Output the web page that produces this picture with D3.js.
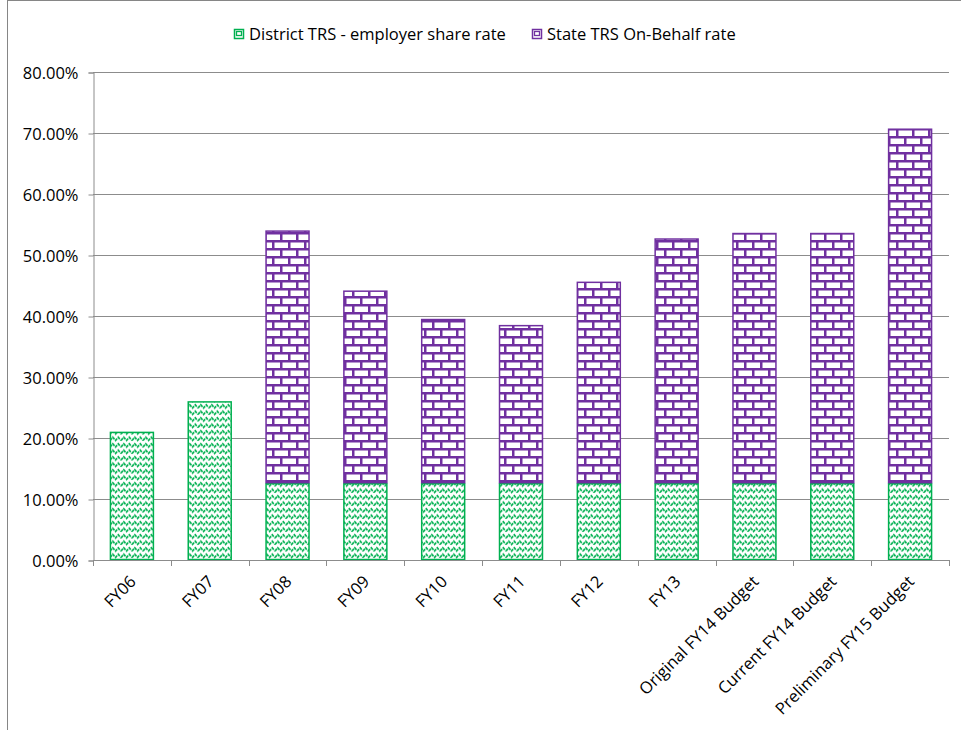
<!DOCTYPE html>
<html>
<head>
<meta charset="utf-8">
<script src="https://cdn.jsdelivr.net/npm/d3@7/dist/d3.min.js"></script>
<style>
  html, body { margin: 0; padding: 0; background: #fff; }
  svg { display: block; font-family: "Open Sans", sans-serif; }
</style>
</head>
<body>
<svg id="chart" width="961" height="730"></svg>
<script>
// Fiscal-year categories along the x axis
const categories = ["FY06", "FY07", "FY08", "FY09", "FY10", "FY11", "FY12", "FY13",
  "Original FY14 Budget", "Current FY14 Budget", "Preliminary FY15 Budget"];

// Stacked series values (percent)
const districtRate = [21.0, 26.0, 12.6, 12.6, 12.6, 12.6, 12.6, 12.6, 12.6, 12.6, 12.6];
const stateRate    = [0, 0, 41.4, 31.55, 26.9, 25.9, 33.0, 40.1, 41.0, 41.0, 58.1];

const seriesNames = ["District TRS - employer share rate", "State TRS On-Behalf rate"];
const yTicks = [0, 10, 20, 30, 40, 50, 60, 70, 80];

const green = "#00B050";
const purple = "#7030A0";
const gridColor = "#8c8c8c";
const fontFamily = "'Open Sans', sans-serif";
const fontSize = 16.5;

const svg = d3.select("#chart");
const W = 961, H = 730;
const plot = { left: 93, right: 949, top: 72, bottom: 560 };

// Outer chart-area border
svg.append("rect")
  .attr("x", 7.5).attr("y", 0.5)
  .attr("width", W + 10).attr("height", H + 10)
  .attr("fill", "none").attr("stroke", "#868686").attr("stroke-width", 1);

// Fill patterns
const defs = svg.append("defs");

const zig = defs.append("pattern")
  .attr("id", "zigzag").attr("patternUnits", "userSpaceOnUse")
  .attr("width", 11).attr("height", 6.5);
zig.append("rect").attr("width", 11).attr("height", 6.5).attr("fill", "#fff");
zig.append("path")
  .attr("d", "M0,5 L2.75,1.8 L5.5,5 L8.25,1.8 L11,5")
  .attr("fill", "none").attr("stroke", green).attr("stroke-width", 1.7)
  .attr("stroke-dasharray", "3,1");

const brick = defs.append("pattern")
  .attr("id", "brick").attr("patternUnits", "userSpaceOnUse")
  .attr("width", 16).attr("height", 16);
brick.append("rect").attr("width", 16).attr("height", 16).attr("fill", "#fff");
brick.append("rect").attr("x", 0).attr("y", 0).attr("width", 16).attr("height", 2.5).attr("fill", purple);
brick.append("rect").attr("x", 0).attr("y", 8).attr("width", 16).attr("height", 2.5).attr("fill", purple);
brick.append("rect").attr("x", 0).attr("y", 0).attr("width", 2.5).attr("height", 8).attr("fill", purple);
brick.append("rect").attr("x", 8).attr("y", 8).attr("width", 2.5).attr("height", 8).attr("fill", purple);

// Scales
const x = d3.scaleBand()
  .domain(categories)
  .range([plot.left, plot.right])
  .paddingInner(0.435)
  .paddingOuter(0.2175);

const y = d3.scaleLinear()
  .domain([0, 80])
  .range([plot.bottom, plot.top]);

// Horizontal gridlines
svg.append("g")
  .selectAll("line")
  .data(yTicks.filter(d => d > 0))
  .join("line")
  .attr("x1", plot.left).attr("x2", plot.right)
  .attr("y1", d => Math.round(y(d)) + 0.5).attr("y2", d => Math.round(y(d)) + 0.5)
  .attr("stroke", gridColor).attr("stroke-width", 1);

// Y axis
const yAxis = d3.axisLeft(y)
  .tickValues(yTicks)
  .tickFormat(d => d.toFixed(2) + "%")
  .tickSize(5)
  .tickPadding(10);
const gy = svg.append("g")
  .attr("transform", `translate(${plot.left + 0.5},0.5)`)
  .call(yAxis);
gy.select(".domain").attr("stroke", gridColor);
gy.selectAll(".tick line").attr("stroke", gridColor);
gy.selectAll(".tick text")
  .attr("fill", "#000").attr("font-size", fontSize).attr("font-family", fontFamily)
  .attr("dy", "0.34em");

// Stacked bars
const stackData = categories.map((c, i) => ({ cat: c, district: districtRate[i], state: stateRate[i] }));
const stacked = d3.stack().keys(["district", "state"])(stackData);
const fills = ["url(#zigzag)", "url(#brick)"];
const strokes = [green, purple];

stacked.forEach((layer, li) => {
  svg.append("g")
    .selectAll("rect")
    .data(layer.filter(d => d[1] - d[0] > 0))
    .join("rect")
    .attr("x", d => x(d.data.cat) + 0.5)
    .attr("width", x.bandwidth() - 1)
    .attr("y", d => y(d[1]) + 0.5)
    .attr("height", d => y(d[0]) - y(d[1]) - 1)
    .attr("fill", fills[li])
    .attr("stroke", strokes[li])
    .attr("stroke-width", 1.5);
});

// X axis
const xAxis = d3.axisBottom(x).tickSize(0).tickFormat(d => d);
const gx = svg.append("g")
  .attr("transform", `translate(0,${plot.bottom + 0.5})`)
  .call(xAxis);
gx.select(".domain").attr("stroke", gridColor).attr("d", `M${plot.left},0H${plot.right}`);
gx.selectAll(".tick text")
  .attr("fill", "#000").attr("font-size", fontSize).attr("font-family", fontFamily)
  .attr("text-anchor", "end")
  .attr("dy", 0)
  .attr("transform", "translate(3,20) rotate(-45)");

// Category boundary ticks
svg.append("g")
  .selectAll("line")
  .data(d3.range(categories.length + 1))
  .join("line")
  .attr("x1", i => Math.round(plot.left + i * x.step()) + 0.5)
  .attr("x2", i => Math.round(plot.left + i * x.step()) + 0.5)
  .attr("y1", plot.bottom).attr("y2", plot.bottom + 6)
  .attr("stroke", gridColor);

// Legend
const legend = svg.append("g").attr("font-family", fontFamily).attr("font-size", fontSize);
const legendItems = [
  { name: seriesNames[0], x: 234, stroke: green },
  { name: seriesNames[1], x: 532, stroke: purple }
];
legendItems.forEach(item => {
  legend.append("rect")
    .attr("x", item.x + 0.5).attr("y", 29.5).attr("width", 9).attr("height", 9)
    .attr("fill", "#fff")
    .attr("stroke", item.stroke).attr("stroke-width", 1.5);
  legend.append("rect")
    .attr("x", item.x + 2.5).attr("y", 31.5).attr("width", 5).attr("height", 4)
    .attr("fill", "none")
    .attr("stroke", item.stroke).attr("stroke-width", 1.3);
  legend.append("text")
    .attr("x", item.x + 15).attr("y", 40)
    .attr("fill", "#000")
    .text(item.name);
});
</script>
</body>
</html>
